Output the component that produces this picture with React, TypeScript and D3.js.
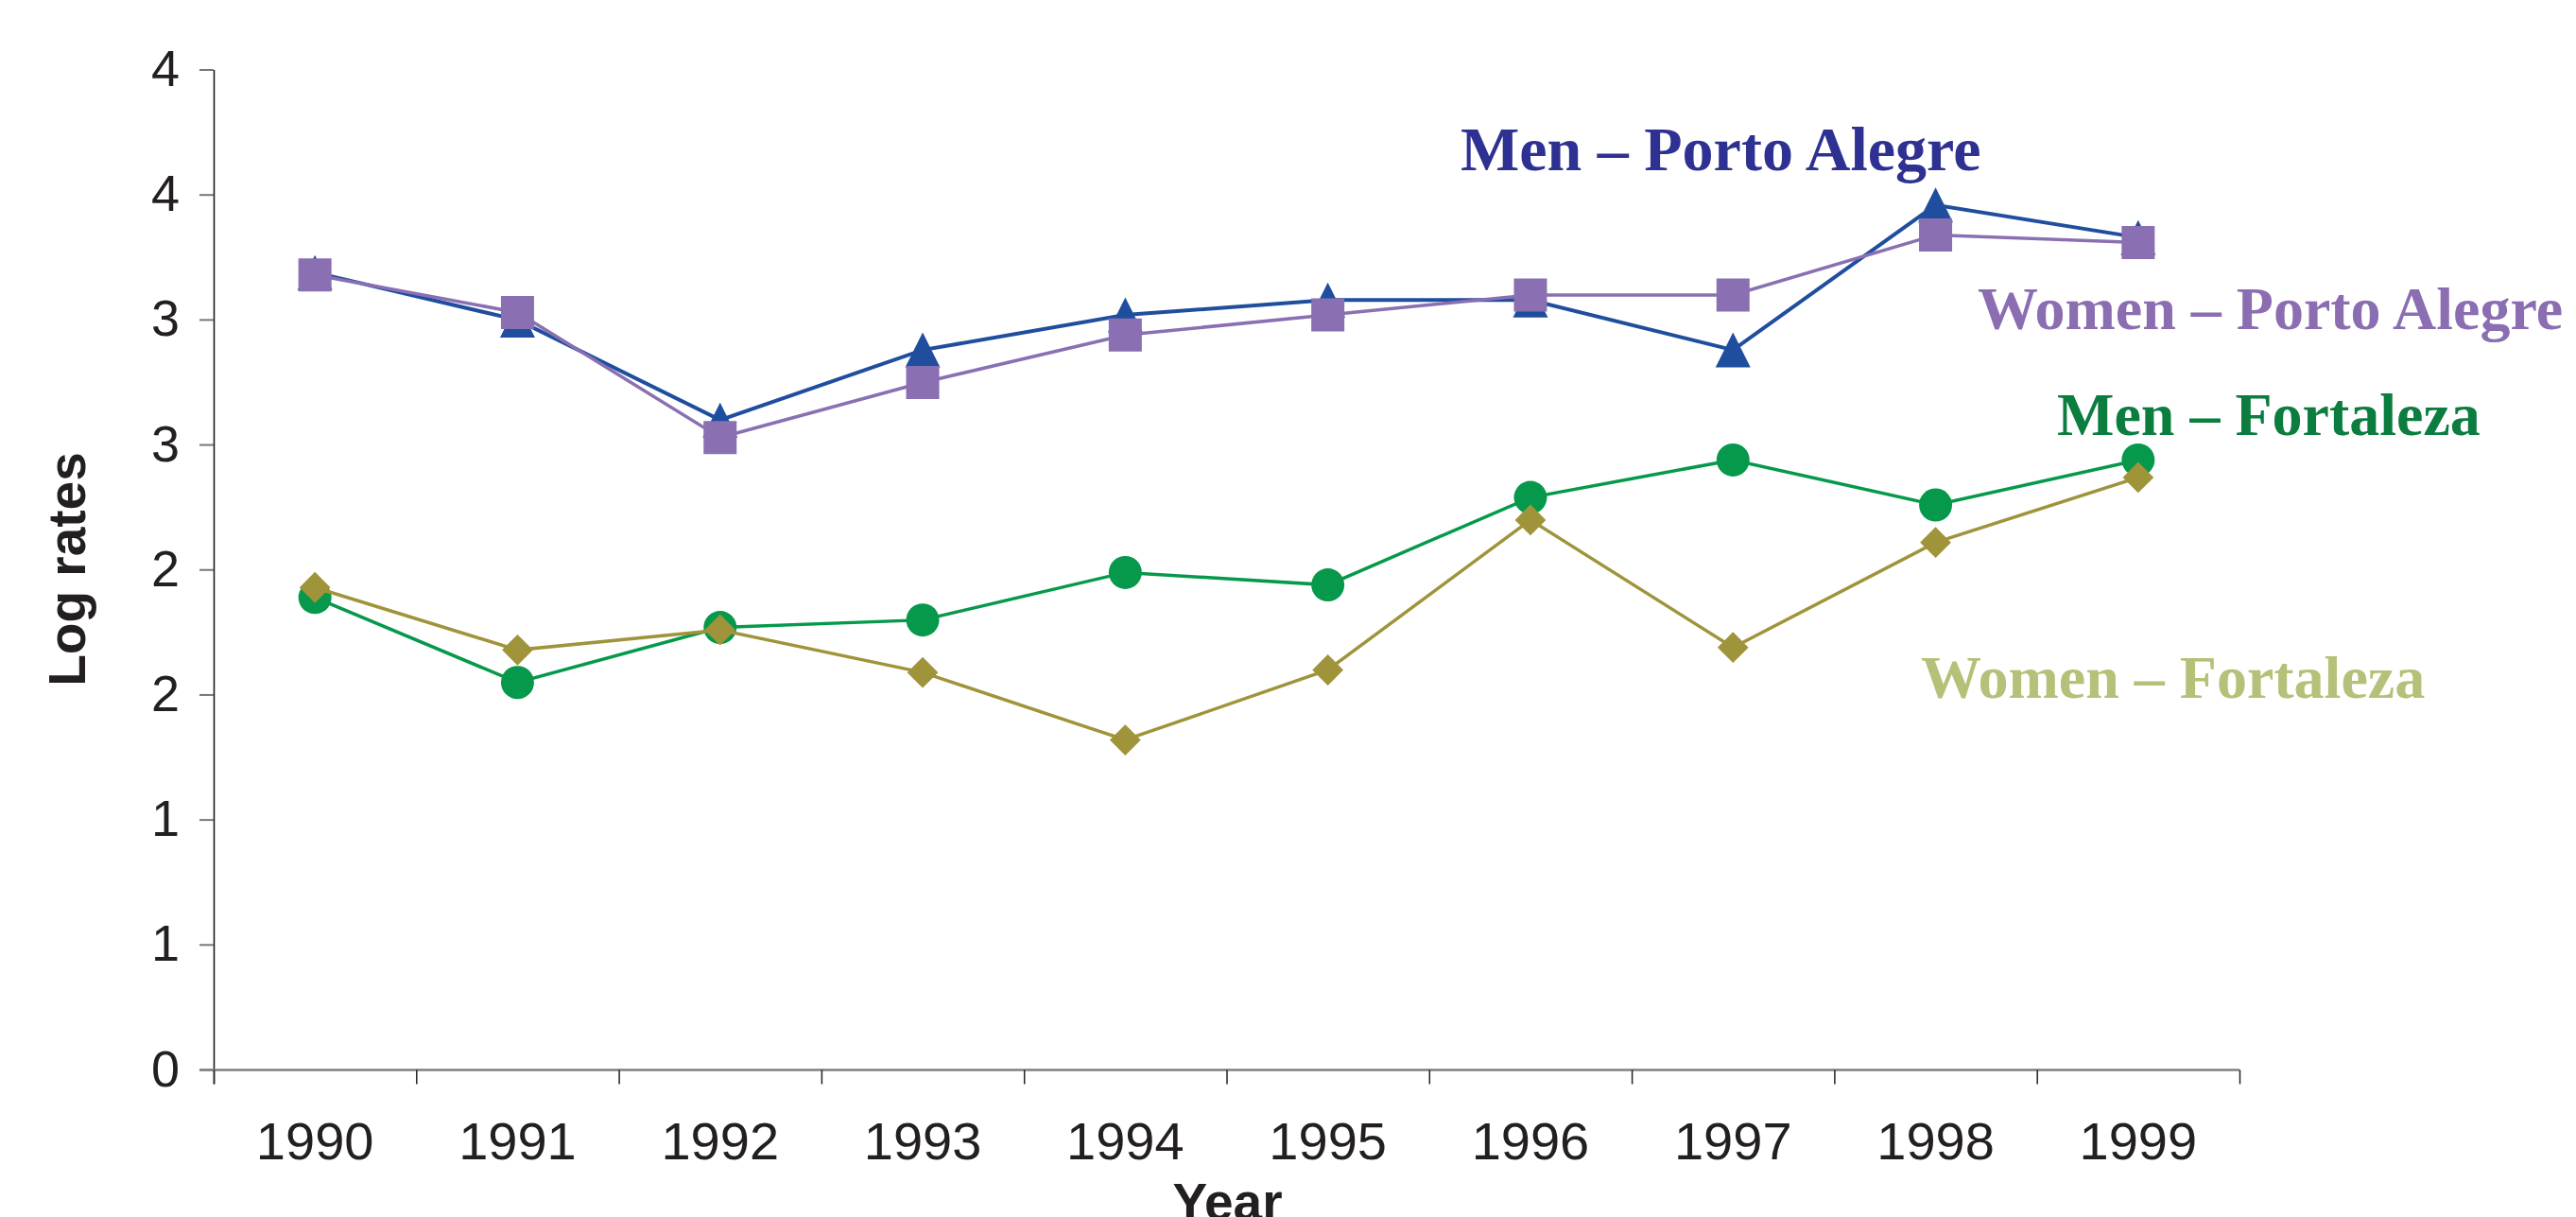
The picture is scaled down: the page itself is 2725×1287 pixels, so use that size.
import { useMemo } from 'react';
import * as d3 from 'd3';

const WIDTH = 2725;
const HEIGHT = 1287;
const MARGIN = { top: 74, right: 356, bottom: 155.5, left: 226 };

const years = ['1990', '1991', '1992', '1993', '1994', '1995', '1996', '1997', '1998', '1999'];
const yTicks = [0, 0.5, 1, 1.5, 2, 2.5, 3, 3.5, 4];
const yTickLabels = ['0', '1', '1', '2', '2', '3', '3', '4', '4'];

const menPortoAlegre = [3.19, 3.0, 2.6, 2.88, 3.02, 3.08, 3.08, 2.88, 3.46, 3.33];
const womenPortoAlegre = [3.18, 3.03, 2.53, 2.75, 2.94, 3.02, 3.1, 3.1, 3.34, 3.31];
const menFortaleza = [1.89, 1.55, 1.77, 1.8, 1.99, 1.94, 2.29, 2.44, 2.26, 2.44];
const womenFortaleza = [1.93, 1.68, 1.76, 1.59, 1.32, 1.6, 2.2, 1.69, 2.11, 2.37];

// triangle centred on its bounding box, like the spreadsheet marker
const boxTriangle = {
  draw(context, size) {
    const w = Math.sqrt(size);
    const h = w;
    context.moveTo(0, -h / 2);
    context.lineTo(w / 2, h / 2);
    context.lineTo(-w / 2, h / 2);
    context.closePath();
  },
};

const series = [
  { name: 'Men – Porto Alegre', values: menPortoAlegre, color: '#1f4e9f', symbol: boxTriangle, size: 37 * 37, width: 4 },
  { name: 'Women – Porto Alegre', values: womenPortoAlegre, color: '#8a6fb2', symbol: d3.symbolSquare, size: 35 * 35, width: 3.5 },
  { name: 'Men – Fortaleza', values: menFortaleza, color: '#06994b', symbol: d3.symbolCircle, size: Math.PI * 17.5 * 17.5, width: 3.5 },
  { name: 'Women – Fortaleza', values: womenFortaleza, color: '#a0943b', symbol: d3.symbolDiamond2, size: (37 * 37) / 2, width: 3.5 },
];

const labels = [
  { text: 'Men – Porto Alegre', color: '#2e3192', x: 1545, y: 180, size: 66 },
  { text: 'Women – Porto Alegre', color: '#8b6db1', x: 2092, y: 348, size: 64 },
  { text: 'Men – Fortaleza', color: '#0b7d3e', x: 2176, y: 460, size: 64 },
  { text: 'Women – Fortaleza', color: '#b5c178', x: 2032, y: 738, size: 64 },
];

const App = () => {
  const boundsWidth = WIDTH - MARGIN.left - MARGIN.right;
  const boundsHeight = HEIGHT - MARGIN.top - MARGIN.bottom;

  const xScale = useMemo(() => {
    return d3.scaleBand().domain(years).range([0, boundsWidth]).padding(0);
  }, [boundsWidth]);

  const yScale = useMemo(() => {
    return d3.scaleLinear().domain([0, 4]).range([boundsHeight, 0]);
  }, [boundsHeight]);

  const xCenter = (year) => xScale(year) + xScale.bandwidth() / 2;

  const lineGen = d3
    .line()
    .x((d, i) => xCenter(years[i]))
    .y(d => yScale(d));

  const font = '"Liberation Sans", Arial, sans-serif';
  const serif = '"Liberation Serif", "Times New Roman", serif';

  return (
    <svg
      width={WIDTH}
      height={HEIGHT}
      style={{ position: 'absolute', left: 0, top: 0, background: '#fff' }}
    >
      <g transform={`translate(${MARGIN.left},${MARGIN.top})`}>
        {/* y axis */}
        <line x1={0.5} x2={0.5} y1={0} y2={boundsHeight + 15} stroke="#111" strokeWidth={1.5} />
        {yTicks.map((t, i) => (
          <g key={`yt-${t}`}>
            <line x1={-15} x2={0} y1={yScale(t)} y2={yScale(t)} stroke="#777" strokeWidth={2} />
            <text
              x={-36}
              y={yScale(t) + 17}
              textAnchor="end"
              fontFamily={font}
              fontSize={54}
              fill="#231f20"
            >
              {yTickLabels[i]}
            </text>
          </g>
        ))}

        {/* x axis */}
        <line x1={-15} x2={boundsWidth} y1={boundsHeight} y2={boundsHeight} stroke="#808080" strokeWidth={2.5} />
        {[...years.map(y => xScale(y)), boundsWidth].map(x => (
          <line
            key={`xt-${x}`}
            x1={x + 0.5}
            x2={x + 0.5}
            y1={boundsHeight}
            y2={boundsHeight + 15}
            stroke="#222"
            strokeWidth={1.5}
          />
        ))}
        {years.map(y => (
          <text
            key={`xl-${y}`}
            x={xCenter(y)}
            y={boundsHeight + 94}
            textAnchor="middle"
            fontFamily={font}
            fontSize={56}
            fill="#231f20"
          >
            {y}
          </text>
        ))}

        {/* series */}
        {series.map(s => (
          <g key={s.name}>
            <path d={lineGen(s.values)} fill="none" stroke={s.color} strokeWidth={s.width} />
            {s.values.map((v, i) => (
              <path
                key={`${s.name}-${years[i]}`}
                d={d3.symbol(s.symbol, s.size)()}
                transform={`translate(${xCenter(years[i])},${yScale(v)})`}
                fill={s.color}
              />
            ))}
          </g>
        ))}
      </g>

      {/* axis titles */}
      <text
        x={MARGIN.left + boundsWidth / 2 + 1}
        y={1290}
        textAnchor="middle"
        fontFamily={font}
        fontWeight="bold"
        fontSize={55}
        fill="#231f20"
      >
        Year
      </text>
      <text
        transform="translate(90,602) rotate(-90)"
        textAnchor="middle"
        fontFamily={font}
        fontWeight="bold"
        fontSize={55}
        fill="#231f20"
      >
        Log rates
      </text>

      {/* series labels */}
      {labels.map(l => (
        <text
          key={l.text}
          x={l.x}
          y={l.y}
          fontFamily={serif}
          fontWeight="bold"
          fontSize={l.size}
          fill={l.color}
        >
          {l.text}
        </text>
      ))}
    </svg>
  );
};

export default App;
